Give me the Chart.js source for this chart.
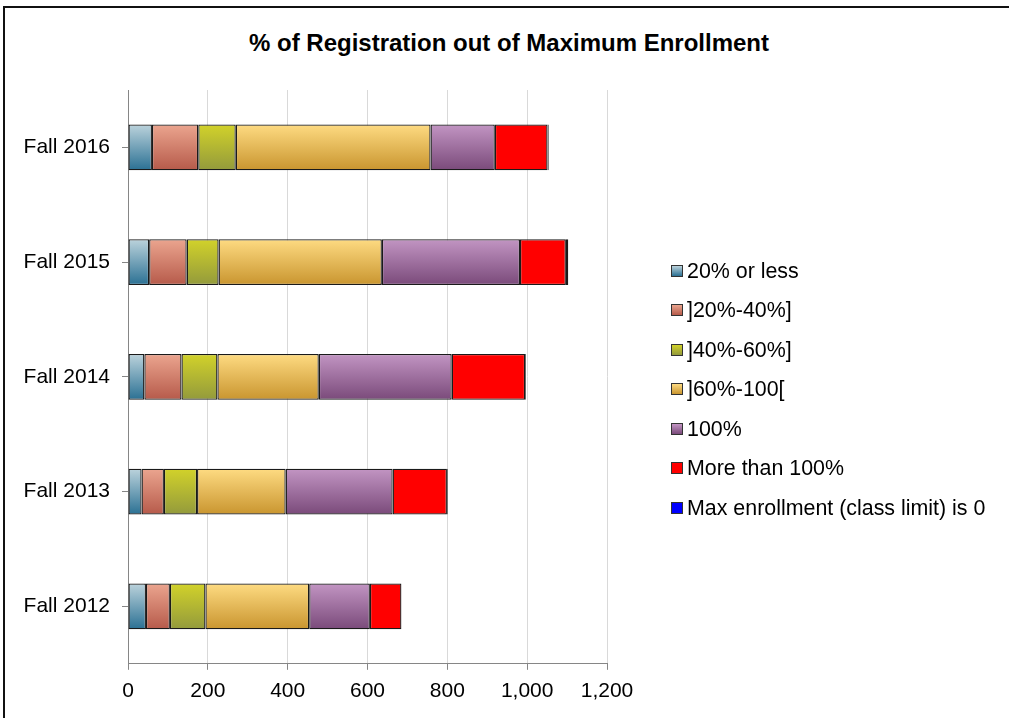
<!DOCTYPE html>
<html>
<head>
<meta charset="utf-8">
<script src="https://cdn.jsdelivr.net/npm/chart.js@4"></script>
<style>
  body { margin: 0; background: #fff; overflow: hidden; }
  #wrap { position: relative; width: 1009px; height: 718px; overflow: hidden; font-family: "Liberation Sans", Arial, sans-serif; }
  #frame { position: absolute; left: 3px; top: 6px; width: 1200px; height: 800px; border-left: 2px solid #111; border-top: 2px solid #111; }
  #title { position: absolute; left: 0; width: 1018px; top: 29px; text-align: center; font-weight: bold; font-size: 24px; line-height: 28px; color: #000; }
  #chart { position: absolute; left: 0; top: 0; }
  #legend { position: absolute; left: 671px; top: 0; }
  .item { position: absolute; left: 0; white-space: nowrap; font-size: 21.4px; line-height: 24px; color: #000; }
  .box { display: inline-block; width: 10px; height: 10px; border: 1px solid #333; margin-right: 4px; vertical-align: 1px; }
</style>
</head>
<body>
<div id="wrap">
  <div id="frame"></div>
  <div id="title">% of Registration out of Maximum Enrollment</div>
  <canvas id="chart" width="1009" height="718"></canvas>
  <div id="legend"></div>
</div>
<script>
const categories = ["Fall 2012", "Fall 2013", "Fall 2014", "Fall 2015", "Fall 2016"];

const seriesNames = [
  "20% or less",
  "]20%-40%]",
  "]40%-60%]",
  "]60%-100[",
  "100%",
  "More than 100%",
  "Max enrollment (class limit) is 0",
];

// values per category, same order as categories
const under20 = [45, 34, 41, 53, 60];
const from20to40 = [60, 56, 93, 94, 116];
const from40to60 = [89, 83, 90, 80, 94];
const from60to100 = [260, 222, 254, 409, 488];
const full100 = [152, 268, 333, 346, 161];
const over100 = [79, 136, 184, 115, 132];
const limitZero = [0, 2, 2, 6, 3];

const xTicks = [0, 200, 400, 600, 800, 1000, 1200];

// top / bottom colours of each segment gradient
const colorsTop = ["#bcd3dc", "#eba58f", "#d2d22a", "#fedb82", "#c295c3", "#ff0000", "#0000ff"];
const colorsBottom = ["#2a7093", "#b65a4a", "#939a3c", "#c9952f", "#7a4a7a", "#ff0000", "#0000ff"];

const allValues = [under20, from20to40, from40to60, from60to100, full100, over100, limitZero];
const BAR_PCT = 0.4;

function barGradient(top, bottom) {
  return (ctx) => {
    const chart = ctx.chart;
    const area = chart.chartArea;
    const y = chart.scales.y;
    if (top === bottom || !area || !y || ctx.dataIndex === undefined) return bottom;
    const c = y.getPixelForValue(ctx.dataIndex);
    const half = ((area.bottom - area.top) / categories.length) * BAR_PCT / 2;
    const g = chart.ctx.createLinearGradient(0, c - half, 0, c + half);
    g.addColorStop(0, top);
    g.addColorStop(1, bottom);
    return g;
  };
}

const datasets = seriesNames.map((name, i) => ({
  label: name,
  data: allValues[i],
  backgroundColor: barGradient(colorsTop[i], colorsBottom[i]),
  borderColor: "#1a1a1a",
  borderWidth: 1.3,
  borderSkipped: false,
  barPercentage: BAR_PCT,
  categoryPercentage: 1,
}));

new Chart(document.getElementById("chart").getContext("2d"), {
  type: "bar",
  data: { labels: categories, datasets },
  options: {
    indexAxis: "y",
    responsive: false,
    animation: false,
    layout: { padding: { top: 90, right: 402, bottom: 5, left: 0 } },
    scales: {
      x: {
        stacked: true,
        min: xTicks[0],
        max: xTicks[xTicks.length - 1],
        afterBuildTicks: (s) => { s.ticks = xTicks.map((v) => ({ value: v })); },
        ticks: { color: "#000", font: { family: "Liberation Sans", size: 21 }, padding: 9 },
        grid: { color: "#d9d9d9", tickColor: "#868686", tickLength: 6, lineWidth: 1 },
        border: { color: "#868686", width: 1 },
      },
      y: {
        stacked: true,
        reverse: true,
        afterFit: (s) => { s.width = 128; },
        ticks: { color: "#000", font: { family: "Liberation Sans", size: 21 }, padding: 12 },
        grid: { drawOnChartArea: false, offset: false, color: "#868686", tickLength: 6 },
        border: { color: "#868686", width: 1 },
      },
    },
    plugins: {
      legend: { display: false },
      title: { display: false },
      tooltip: { enabled: false },
    },
  },
});

// legend on the right
const legend = document.getElementById("legend");
seriesNames.forEach((name, i) => {
  const item = document.createElement("div");
  item.className = "item";
  item.style.top = (270.5 + i * 39.5 - 12) + "px";
  const box = document.createElement("span");
  box.className = "box";
  box.style.background = `linear-gradient(${colorsTop[i]}, ${colorsBottom[i]})`;
  item.appendChild(box);
  item.appendChild(document.createTextNode(name));
  legend.appendChild(item);
});
</script>
</body>
</html>
